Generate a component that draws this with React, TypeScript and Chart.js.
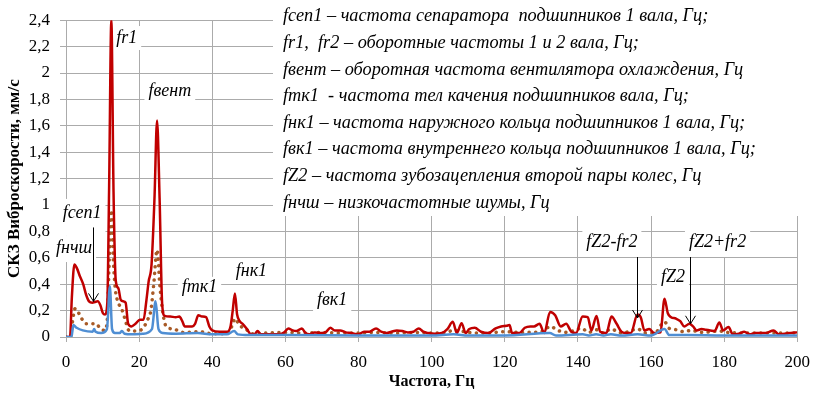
import React, { useEffect, useRef } from 'react';
import { Chart, registerables } from 'chart.js';
Chart.register(...registerables);

// ---- data (frequency, Hz / RMS vibration velocity, mm/s) ----
const redFreq = [0, 1.1, 1.6, 2.3, 3.0, 3.8, 4.7, 5.5, 6.3, 7.2, 7.9, 8.7, 9.4, 10.1, 10.7, 11.3, 11.8, 12.4, 13.0, 13.6, 14.3, 15.0, 15.7, 16.3, 17.0, 17.9, 19.0, 20.2, 21.2, 22.0, 22.6, 23.4, 24.2, 24.9, 25.6, 26.3, 27.0, 28.5, 30.0, 31.0, 31.8, 32.5, 34.5, 35.3, 36.2, 37.2, 38.3, 39.2, 40.0, 42.0, 44.0, 45.0, 45.6, 46.2, 46.8, 47.5, 48.3, 49.5, 50.6, 51.5, 52.4, 53.3, 55, 57, 58.5, 59.7, 60.8, 62.0, 63.0, 64.5, 65.5, 66.5, 68.0, 70.0, 71.2, 72.3, 73.5, 75.0, 76.5, 78.0, 80.0, 81.5, 83.0, 84.8, 86.2, 87.7, 89.0, 90.5, 92.0, 93.5, 95.0, 96.5, 97.7, 99.0, 101.0, 102.8, 104.3, 105.8, 106.9, 108.2, 109.3, 110.3, 111.8, 113.5, 115.5, 117.5, 119.0, 120.5, 121.3, 122.0, 124.0, 125.5, 127.0, 128.0, 129.5, 130.8, 132.4, 133.8, 135.3, 136.8, 138.2, 139.5, 141.3, 142.7, 143.7, 145.1, 146.1, 147.8, 149.2, 150.6, 151.9, 153.0, 154.5, 156.3, 157.2, 158.2, 159.5, 160.9, 162.6, 163.7, 164.6, 165.5, 166.8, 168.0, 169.1, 170.5, 171.5, 172.5, 173.8, 175.0, 176.2, 177.4, 178.7, 179.7, 181.2, 182.4, 184.0, 185.5, 187.0, 188.5, 190.0, 191.5, 193.5, 195.0, 196.5, 198.2, 200.0];
const redVals = [0, 0, 0.3, 0.55, 0.52, 0.46, 0.4, 0.32, 0.27, 0.26, 0.265, 0.27, 0.24, 0.18, 0.17, 0.26, 1.15, 2.4, 1.1, 0.43, 0.37, 0.28, 0.27, 0.26, 0.1, 0.08, 0.1, 0.13, 0.13, 0.28, 0.42, 0.55, 1.05, 1.64, 1.05, 0.25, 0.16, 0.155, 0.15, 0.155, 0.12, 0.08, 0.08, 0.1, 0.165, 0.155, 0.15, 0.08, 0.05, 0.04, 0.04, 0.08, 0.2, 0.33, 0.17, 0.12, 0.1, 0.06, 0.02, 0.02, 0.045, 0.02, 0.02, 0.02, 0.02, 0.035, 0.065, 0.05, 0.045, 0.065, 0.03, 0.02, 0.035, 0.03, 0.04, 0.07, 0.05, 0.05, 0.035, 0.03, 0.02, 0.04, 0.04, 0.065, 0.04, 0.03, 0.04, 0.05, 0.045, 0.035, 0.04, 0.065, 0.04, 0.03, 0.025, 0.03, 0.06, 0.115, 0.03, 0.105, 0.03, 0.06, 0.07, 0.04, 0.03, 0.065, 0.08, 0.085, 0.09, 0.03, 0.03, 0.07, 0.08, 0.08, 0.1, 0.03, 0.19, 0.165, 0.08, 0.1, 0.04, 0.03, 0.155, 0.15, 0.05, 0.16, 0.04, 0.03, 0.155, 0.1, 0.04, 0.03, 0.03, 0.17, 0.15, 0.05, 0.06, 0.03, 0.035, 0.29, 0.18, 0.15, 0.14, 0.12, 0.08, 0.1, 0.08, 0.05, 0.06, 0.055, 0.05, 0.045, 0.11, 0.05, 0.075, 0.02, 0.025, 0.04, 0.02, 0.03, 0.03, 0.03, 0.05, 0.02, 0.025, 0.03, 0.035];

const brownFreq = [0, 1.3, 1.8, 2.5, 3.5, 4.5, 5.5, 7.0, 8.3, 9.3, 10.5, 11.2, 11.8, 12.4, 13.0, 13.5, 14.3, 15.2, 16.1, 17.2, 19.0, 21.0, 22.3, 23.2, 24.0, 24.9, 25.7, 26.5, 27.4, 29.5, 32.0, 36.5, 40.0, 44.0, 45.5, 46.2, 47.4, 49.2, 51.0, 55, 60, 65, 70, 75, 80, 85, 90, 95, 100, 104, 106, 108, 110, 115, 120, 125, 130, 132.5, 134.5, 137, 141, 143, 145, 147, 149, 152, 156.4, 158.5, 161, 163.7, 165, 167, 169, 171, 174, 178.7, 181, 185, 190, 195, 200];
const brownVals = [0, 0, 0.12, 0.215, 0.18, 0.13, 0.1, 0.1, 0.1, 0.065, 0.05, 0.1, 0.55, 0.96, 0.55, 0.36, 0.26, 0.215, 0.14, 0.05, 0.045, 0.065, 0.13, 0.2, 0.4, 0.66, 0.38, 0.18, 0.08, 0.06, 0.035, 0.04, 0.025, 0.025, 0.09, 0.14, 0.09, 0.06, 0.025, 0.03, 0.035, 0.03, 0.035, 0.03, 0.03, 0.035, 0.03, 0.035, 0.03, 0.035, 0.05, 0.045, 0.035, 0.03, 0.04, 0.035, 0.04, 0.08, 0.05, 0.035, 0.065, 0.035, 0.055, 0.03, 0.06, 0.03, 0.06, 0.03, 0.03, 0.115, 0.065, 0.055, 0.04, 0.05, 0.035, 0.045, 0.035, 0.03, 0.03, 0.03, 0.03];

const blueFreq = [0, 1.5, 2.0, 2.9, 4.6, 7.3, 7.7, 8.1, 9.6, 11.2, 12.0, 12.6, 13.4, 14.7, 15.3, 16.0, 18, 21, 23.5, 24.5, 25.3, 26.5, 30, 36, 40, 44, 46.0, 47, 50, 60, 80, 100, 106, 110, 120, 132.3, 134, 141.3, 143, 145, 147, 149, 152, 156.3, 160, 163.7, 165, 170, 180, 200];
const blueVals = [0, 0, 0.09, 0.07, 0.05, 0.04, 0.06, 0.04, 0.03, 0.06, 0.385, 0.06, 0.03, 0.03, 0.045, 0.025, 0.02, 0.025, 0.06, 0.27, 0.06, 0.03, 0.025, 0.03, 0.02, 0.02, 0.045, 0.02, 0.015, 0.015, 0.012, 0.012, 0.02, 0.012, 0.012, 0.03, 0.012, 0.02, 0.012, 0.02, 0.012, 0.02, 0.012, 0.02, 0.012, 0.06, 0.015, 0.015, 0.012, 0.012];

const legendLines = [
  'fсеп1 – частота сепаратора  подшипников 1 вала, Гц;',
  'fr1,  fr2 – оборотные частоты 1 и 2 вала, Гц;',
  'fвент – оборотная частота вентилятора охлаждения, Гц',
  'fтк1  - частота тел качения подшипников вала, Гц;',
  'fнк1 – частота наружного кольца подшипников 1 вала, Гц;',
  'fвк1 – частота внутреннего кольца подшипников 1 вала, Гц;',
  'fZ2 – частота зубозацепления второй пары колес, Гц',
  'fнчш – низкочастотные шумы, Гц',
];

// labels anchored in data space: text, frequency, value
const labelTexts = ['fr1', 'fвент', 'fсеп1', 'fнчш', 'fтк1', 'fнк1', 'fвк1', 'fZ2-fr2', 'fZ2+fr2', 'fZ2'];
const labelFreq = [16.6, 28.4, 4.4, 2.2, 36.5, 50.7, 72.8, 149.3, 178.2, 166];
const labelVals = [2.265, 1.86, 0.94, 0.674, 0.38, 0.5, 0.28, 0.72, 0.72, 0.455];

// arrows: frequency, from value, to value
const arrowFreq = [7.36, 156.1, 170.6];
const arrowFrom = [0.83, 0.606, 0.606];
const arrowTo = [0.27, 0.144, 0.1];

const toXY = (fs: number[], vs: number[]) => fs.map((f, i) => ({ x: f, y: vs[i] }));

const FONT = "'Liberation Serif', 'Times New Roman', serif";

const overlayPlugin = {
  id: 'overlay',
  beforeDatasetsDraw(chart: any) {
    const { ctx, chartArea, scales } = chart;
    ctx.save();
    ctx.fillStyle = '#ffffff';
    // legend block
    ctx.fillRect(273, 0, chartArea.right + 1 - 273, 216);
    // label backgrounds
    ctx.font = `italic 18px ${FONT}`;
    labelTexts.forEach((t, i) => {
      const x = scales.x.getPixelForValue(labelFreq[i]);
      const y = scales.y.getPixelForValue(labelVals[i]);
      const w = ctx.measureText(t).width;
      let h = 24;
      let top = y - 12;
      if (t === 'fсеп1') { top = y - 14; h = 37; }
      if (t === 'fнчш') { top = y - 12; h = 26; }
      if (t === 'fZ2-fr2' || t === 'fZ2+fr2') { top = 216; h = 41; }
      if (t === 'fтк1') { top = y - 10; h = 23; }
      ctx.fillRect(x - w / 2 - 4, top, w + 8, h);
    });
    ctx.restore();
  },
  afterDatasetsDraw(chart: any) {
    const { ctx, scales } = chart;
    ctx.save();
    ctx.fillStyle = '#000';
    ctx.font = `italic 18.3px ${FONT}`;
    ctx.textBaseline = 'middle';
    ctx.textAlign = 'left';
    legendLines.forEach((t, i) => {
      ctx.fillText(t, 283, 16.5 + i * 26.6);
    });
    ctx.font = `italic 18px ${FONT}`;
    ctx.textAlign = 'center';
    labelTexts.forEach((t, i) => {
      const x = scales.x.getPixelForValue(labelFreq[i]);
      const y = scales.y.getPixelForValue(labelVals[i]);
      ctx.fillText(t, x, y);
    });
    ctx.strokeStyle = '#000';
    ctx.lineWidth = 1;
    arrowFreq.forEach((f, i) => {
      const x = Math.round(scales.x.getPixelForValue(f)) + 0.5;
      const y1 = scales.y.getPixelForValue(arrowFrom[i]);
      const y2 = scales.y.getPixelForValue(arrowTo[i]);
      ctx.beginPath();
      ctx.moveTo(x, y1);
      ctx.lineTo(x, y2);
      ctx.moveTo(x - 5, y2 - 8);
      ctx.lineTo(x, y2);
      ctx.lineTo(x + 5, y2 - 8);
      ctx.stroke();
    });
    ctx.restore();
  },
};

export default function App() {
  const ref = useRef<HTMLCanvasElement>(null);
  useEffect(() => {
    document.body.style.margin = '0';
    const chart = new Chart(ref.current!, {
      type: 'line',
      data: {
        datasets: [
          {
            label: 'blue',
            data: toXY(blueFreq, blueVals),
            borderColor: '#4F8ED3',
            borderWidth: 2.5,
            pointRadius: 0,
            cubicInterpolationMode: 'monotone',
          },
          {
            label: 'red',
            data: toXY(redFreq, redVals),
            borderColor: '#C00000',
            borderWidth: 2.5,
            pointRadius: 0,
            cubicInterpolationMode: 'monotone',
          },
          {
            label: 'brown',
            data: toXY(brownFreq, brownVals),
            borderColor: '#A85A26',
            borderWidth: 3.5,
            borderDash: [0.1, 6.5],
            borderCapStyle: 'round',
            pointRadius: 0,
            cubicInterpolationMode: 'monotone',
          },
        ],
      },
      options: {
        animation: false,
        responsive: false,
        layout: { padding: { top: 20, right: 20, left: 0, bottom: 0 } },
        plugins: { legend: { display: false }, tooltip: { enabled: false } },
        scales: {
          x: {
            type: 'linear',
            min: 0,
            max: 200,
            ticks: { stepSize: 20, color: '#000', padding: 10, maxRotation: 0, font: { family: FONT, size: 17 } },
            grid: { color: '#ABABAB', tickLength: 5, lineWidth: 1 },
            border: { color: '#ABABAB' },
            title: { display: true, text: 'Частота, Гц', color: '#000', padding: 4, font: { family: FONT, size: 16, weight: 'bold' } },
            afterFit: (s: any) => { s.height = 58; },
          },
          y: {
            min: 0,
            max: 2.4,
            ticks: {
              stepSize: 0.2,
              color: '#000',
              padding: 10,
              font: { family: FONT, size: 17 },
              callback: (v: any) => String(Math.round(Number(v) * 10) / 10).replace('.', ','),
            },
            grid: { color: '#ABABAB', tickLength: 6, lineWidth: 1 },
            border: { color: '#ABABAB' },
            title: { display: true, text: 'СКЗ Виброскорости, мм/с', color: '#000', padding: 4, font: { family: FONT, size: 17, weight: 'bold' } },
            afterFit: (s: any) => { s.width = 66; },
          },
        },
      },
      plugins: [overlayPlugin],
    } as any);
    return () => chart.destroy();
  }, []);
  return (
    <div style={{ width: 820, height: 395, background: '#fff' }}>
      <canvas ref={ref} width={820} height={395} style={{ display: 'block' }} />
    </div>
  );
}
